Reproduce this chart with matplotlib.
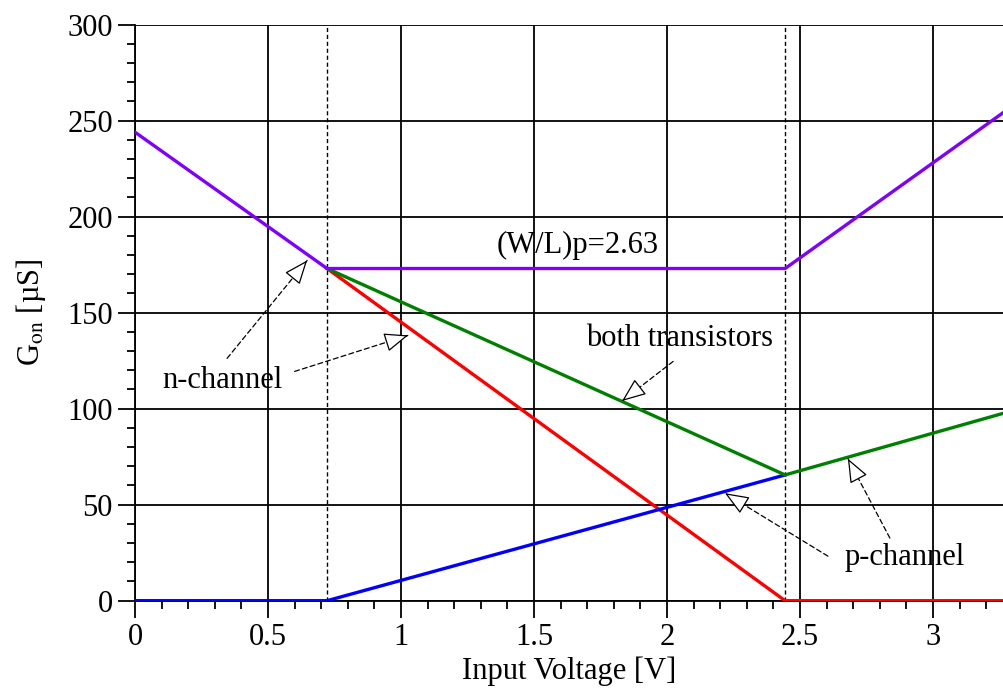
"""On-conductance of a CMOS transmission gate vs input voltage."""

import numpy as np
import matplotlib
matplotlib.use("Agg")
import matplotlib.pyplot as plt
from matplotlib.ticker import MultipleLocator

# values
V_TN = 0.722          # n-channel threshold crossing
V_TP = 2.444          # p-channel cut-off point
X_MAX = 3.267

both_v = [0.0, V_TN, V_TP, X_MAX]
both_g = [244.0, 173.0, 173.0, 254.5]

nchan_v = [V_TN, V_TP, X_MAX]
nchan_g = [173.0, 0.0, 0.0]

pchan_v = [0.0, V_TN, V_TP]
pchan_g = [0.0, 0.0, 65.5]

wide_v = [V_TN, V_TP, X_MAX]
wide_g = [173.0, 65.5, 97.7]

xticks = [0, 0.5, 1, 1.5, 2, 2.5, 3]
xticklabels = ["0", "0.5", "1", "1.5", "2", "2.5", "3"]
yticks = [0, 50, 100, 150, 200, 250, 300]

# (label, text position, [(tail, tip), ...])
notes = [
    ("n-channel", (0.329, 114.8), [((0.346, 126.2), (0.647, 177.2)),
                                   ((0.600, 119.4), (1.027, 138.2))]),
    ("both transistors", (2.049, 136.6), [((2.023, 124.6), (1.831, 104.0))]),
    ("p-channel", (2.895, 22.7), [((2.605, 23.2), (2.218, 56.0)),
                                  ((2.838, 32.6), (2.680, 74.0))]),
]

plt.rcParams["font.family"] = ["Liberation Serif", "DejaVu Serif"]
plt.rcParams["mathtext.fontset"] = "stix"
FS = 22


def arrow(ax, tail, tip):
    ax.annotate("", xy=tip, xytext=tail,
                arrowprops=dict(arrowstyle="-", ls=(0, (4, 2.5)), lw=0.9,
                                color="black", shrinkA=0, shrinkB=0), zorder=6)
    back = (tip[0] - 0.02 * (tip[0] - tail[0]), tip[1] - 0.02 * (tip[1] - tail[1]))
    ax.annotate("", xy=tip, xytext=back,
                arrowprops=dict(arrowstyle="-|>,head_length=1.5,head_width=0.6",
                                mutation_scale=10, fc="white", ec="black", lw=0.9,
                                shrinkA=0, shrinkB=0), zorder=7)


fig = plt.figure(figsize=(10.04, 6.93), dpi=100)
ax = fig.add_axes([0.1345, 0.1332, 0.8655, 0.8312])

ax.set_xlim(0, X_MAX)
ax.set_ylim(0, 300)

ax.grid(which="major", color="black", lw=1.3, zorder=1)
for v in (V_TN, V_TP):
    ax.axvline(v, color="black", lw=1.0, ls=(0, (3, 2)), zorder=2)

ax.plot(nchan_v, nchan_g, color="#ff0000", lw=2.4, zorder=3)
ax.plot(pchan_v, pchan_g, color="#0000ff", lw=2.4, zorder=3)
ax.plot(wide_v, wide_g, color="#008000", lw=2.4, zorder=4)
ax.plot(both_v, both_g, color="#8000ff", lw=2.4, zorder=5)

ax.text(1.664, 185, "(W/L)p=2.63", fontsize=FS, ha="center", va="center")
for label, pos, arrows in notes:
    ax.text(pos[0], pos[1], label, fontsize=FS, ha="center", va="center", zorder=8)
    for tail, tip in arrows:
        arrow(ax, tail, tip)

ax.set_xticks(xticks)
ax.set_xticklabels(xticklabels)
ax.set_yticks(yticks)
ax.xaxis.set_minor_locator(MultipleLocator(0.1))
ax.yaxis.set_minor_locator(MultipleLocator(10))
ax.tick_params(which="major", direction="out", length=12, width=1.3,
               labelsize=FS, pad=4)
ax.tick_params(which="minor", direction="out", length=6, width=1.3)

for side in ("top", "right"):
    ax.spines[side].set_visible(False)
for side in ("left", "bottom"):
    ax.spines[side].set_linewidth(1.3)

ax.set_xlabel("Input Voltage [V]", fontsize=FS, labelpad=3)
ax.set_ylabel(r"G$_{\mathrm{on}}$ [µS]", fontsize=FS, labelpad=14)

fig.savefig("out.png", dpi=100)
